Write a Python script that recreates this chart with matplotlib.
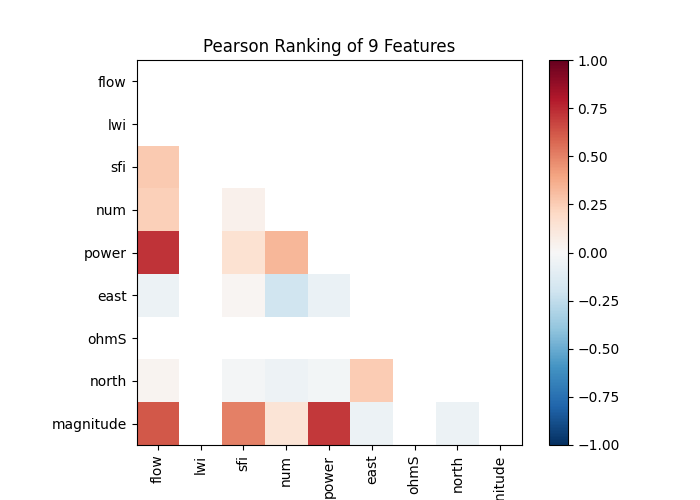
import numpy as np
import matplotlib
matplotlib.use("Agg")
import matplotlib.pyplot as plt

features = ["flow", "lwi", "sfi", "num", "power", "east", "ohmS", "north", "magnitude"]
nan = np.nan

# lower-triangle Pearson coefficients, row by row (lwi and ohmS are constant -> NaN)
row_sfi = [0.26]
row_num = [0.24, nan, 0.05]
row_power = [0.72, nan, 0.15, 0.33]
row_east = [-0.06, nan, 0.02, -0.20, -0.07]
row_ohmS = [nan, nan, nan, nan, nan, nan]
row_north = [0.03, nan, -0.02, -0.05, -0.03, 0.25, nan]
row_magnitude = [0.62, nan, 0.50, 0.14, 0.71, -0.06, nan, -0.06]

rows = {"sfi": row_sfi, "num": row_num, "power": row_power, "east": row_east,
        "ohmS": row_ohmS, "north": row_north, "magnitude": row_magnitude}

n = len(features)
ranks = np.full((n, n), nan)
for name, vals in rows.items():
    i = features.index(name)
    ranks[i, :len(vals)] = vals

# mask the upper triangle including the diagonal
mask = np.triu(np.ones((n, n), dtype=bool))
data = np.ma.masked_where(mask | np.isnan(ranks), ranks)

fig, ax = plt.subplots(figsize=(7, 5), dpi=100)
mesh = ax.pcolormesh(data, cmap="RdBu_r", vmin=-1, vmax=1)
fig.colorbar(mesh, ax=ax)

ax.set_aspect("equal")
ax.set_xlim(0, n); ax.set_ylim(0, n)
ax.invert_yaxis()
ax.set_xticks(np.arange(n) + 0.5)
ax.set_yticks(np.arange(n) + 0.5)
ax.set_xticklabels(features, rotation=90)
ax.set_yticklabels(features)
ax.set_title("Pearson Ranking of 9 Features")

fig.savefig("out.png", dpi=100)
